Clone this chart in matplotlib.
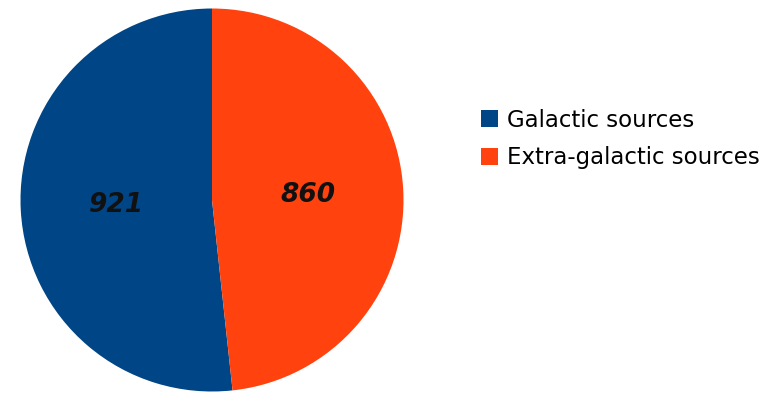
import matplotlib
matplotlib.use("Agg")
import matplotlib.pyplot as plt
from matplotlib.patches import Patch

# source counts
labels = ["Galactic sources", "Extra-galactic sources"]
counts = [921, 860]
colors = ["#004586", "#ff420e"]

fig = plt.figure(figsize=(7.84, 3.94), dpi=100)
ax = fig.add_axes([0, 0, 1, 1])

# pie is drawn in pixel units so it sits left of the legend
wedges, texts, autotexts = ax.pie(
    counts,
    colors=colors,
    startangle=90,
    counterclock=True,
    center=(212, 394 - 200),
    radius=191.5,
    autopct=lambda p: "%d" % round(p * sum(counts) / 100),
    pctdistance=0.5,
    textprops=dict(fontsize=19, fontweight="bold", fontstyle="italic", color="#111111"),
    wedgeprops=dict(linewidth=0),
    frame=True,
)
ax.set_xlim(0, 784)
ax.set_ylim(0, 394)
ax.set_axis_off()

handles = [Patch(facecolor=c, edgecolor="none") for c in colors]
fig.legend(
    handles, labels,
    loc="center left",
    bbox_to_anchor=(481 / 784, 1 - 139 / 394),
    frameon=False,
    fontsize=16.5,
    handlelength=0.74,
    handleheight=0.74,
    handletextpad=0.4,
    labelspacing=0.64,
    borderpad=0,
    borderaxespad=0,
)

fig.savefig("out.png", dpi=100, facecolor="white")
